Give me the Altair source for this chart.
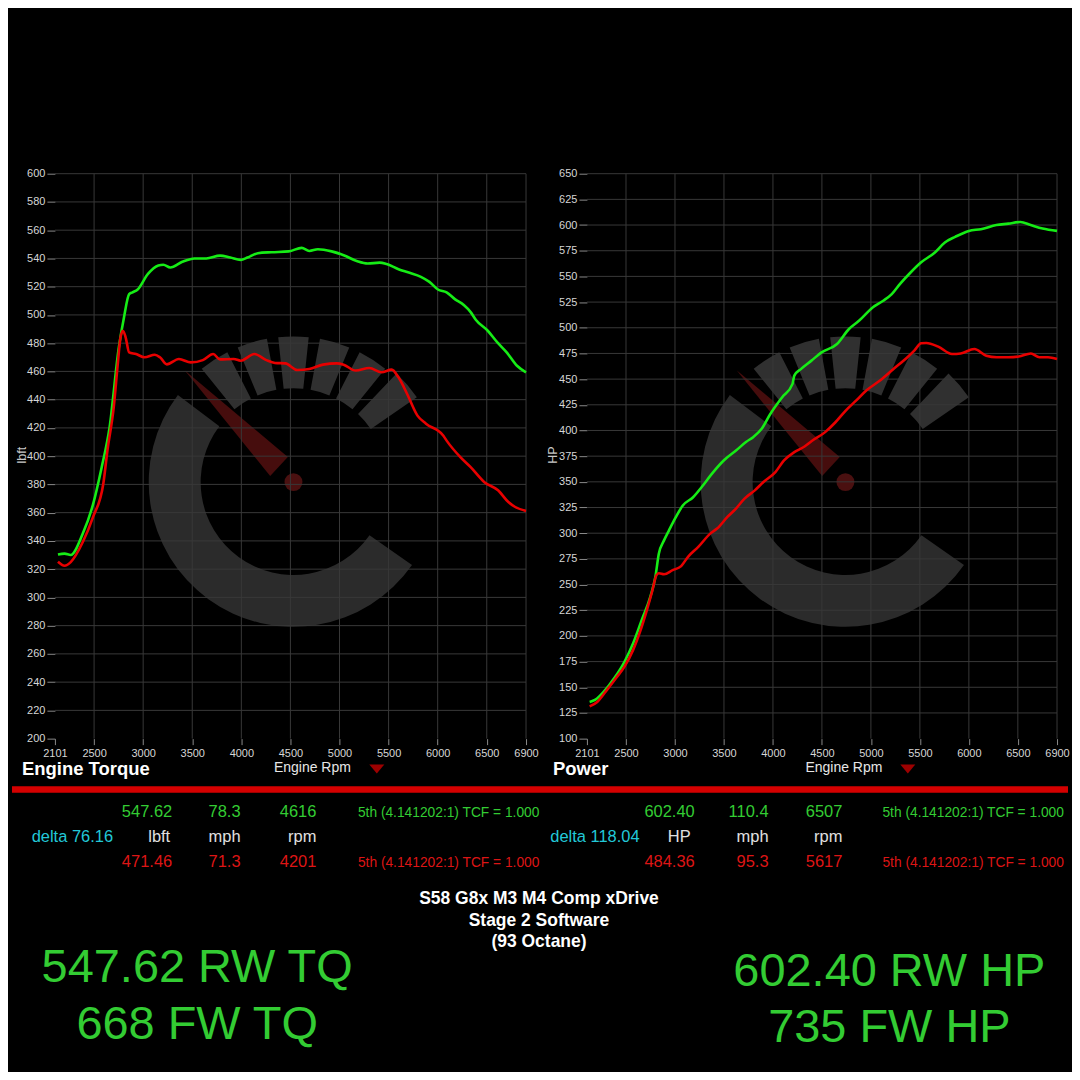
import altair as alt
import pandas as pd

FONT = "Liberation Sans"
NARROW = "Liberation Sans"

# ---------------- data ----------------
rpm_ticks = [2101, 2500, 3000, 3500, 4000, 4500, 5000, 5500, 6000, 6500, 6900]
tq_ticks = list(range(200, 601, 20))
hp_ticks = list(range(100, 651, 25))

tq_green_rpm = [2132, 2199, 2262, 2384, 2490, 2577, 2657, 2752, 2804, 2857, 2892, 2944, 3049, 3154, 3206,
                3276, 3399, 3521, 3643, 3783, 3888, 3993, 4063, 4168, 4308, 4483, 4615, 4692, 4780, 4920,
                5042, 5182, 5287, 5409, 5479, 5601, 5706, 5829, 5916, 6003, 6091, 6178, 6266, 6336, 6388,
                6510, 6615, 6703, 6808, 6900]
tq_green_val = [330.4, 331, 330, 345, 366, 392, 420, 477, 498, 514.7, 516, 518, 529, 535, 535.5,
                533.6, 537.6, 540, 540, 542, 540.6, 539, 540.6, 543.7, 544.4, 545, 547.5, 545.3, 546.5, 545,
                542.3, 538, 536.4, 537, 536, 532.4, 530, 527, 523.4, 518, 516, 511, 507, 502, 496.6,
                488.8, 480, 473.5, 464, 459.4]

tq_red_rpm = [2132, 2199, 2262, 2384, 2490, 2594, 2636, 2700, 2741, 2769, 2794, 2822, 2857, 2927, 3014,
              3119, 3171, 3241, 3364, 3486, 3608, 3713, 3783, 3923, 3993, 4133, 4255, 4343, 4448, 4570,
              4692, 4832, 4972, 5042, 5164, 5304, 5427, 5531, 5601, 5689, 5794, 5881, 6056, 6091, 6231,
              6336, 6476, 6615, 6720, 6790, 6900]
tq_red_val = [325.2, 322.4, 325, 339, 357, 380.5, 404, 434.6, 465, 484, 488.8, 484, 473.5, 472.3, 470,
              471.8, 470, 465, 468.8, 466.4, 468, 472.3, 468.5, 468.8, 467.6, 472.3, 468, 466, 465.7, 461,
              461.7, 464.8, 465.7, 464.8, 460.6, 462.4, 459.4, 461.3, 455.8, 444, 428.7, 423, 414.6, 411, 399.3,
              392.2, 381.6, 375.8, 367.5, 364, 361.2]

hp_green_rpm = [2129, 2188, 2276, 2381, 2486, 2573, 2661, 2748, 2800, 2835, 2888, 2940, 3010, 3080, 3185,
                3273, 3378, 3500, 3623, 3728, 3798, 3885, 3973, 4095, 4200, 4218, 4288, 4393, 4496, 4654,
                4776, 4881, 5021, 5126, 5213, 5300, 5405, 5510, 5650, 5755, 5860, 6000, 6123, 6281, 6403,
                6526, 6631, 6753, 6900]
hp_green_val = [135.7, 138, 146, 159, 175.1, 192.9, 215.6, 238, 257.6, 280, 293, 303, 315.8, 327, 335,
                345, 358, 371, 380.5, 389, 393.5, 401.6, 416, 432.4, 445.4, 453.4, 460, 468, 476, 484.2,
                498.8, 507, 520, 526.3, 532.8, 543, 553.8, 563.5, 573, 583, 588.5, 594.3, 596, 600, 601.4,
                603, 600, 596.6, 594.3]

hp_red_rpm = [2129, 2206, 2294, 2399, 2486, 2573, 2643, 2713, 2766, 2811, 2836, 2888, 2976, 3063, 3133,
              3238, 3360, 3430, 3535, 3623, 3710, 3815, 3903, 4025, 4113, 4218, 4323, 4393, 4533, 4638,
              4743, 4848, 4953, 5093, 5233, 5373, 5443, 5513, 5565, 5688, 5828, 5916, 6056, 6178, 6283,
              6405, 6510, 6633, 6720, 6808, 6900]
hp_red_val = [131.4, 135.7, 146, 159, 170.4, 186.4, 204, 225.2, 243, 259.2, 261, 260, 264, 268, 277,
              286.7, 299.6, 304.5, 315.8, 324, 333.6, 341.7, 349.8, 359.5, 370.8, 378.9, 384.4, 389.5, 398.4, 408,
              419.4, 429, 438.9, 448.6, 460, 471.3, 477.7, 485, 485.2, 481.6, 474.5, 475, 479.3, 472.8, 471.3,
              471.3, 472, 475, 471.3, 471.3, 469.7]

# table texts
tq_row_top = ["547.62", "78.3", "4616"]
tq_row_units = ["lbft", "mph", "rpm"]
tq_row_bot = ["471.46", "71.3", "4201"]
tq_delta = "delta 76.16"
hp_row_top = ["602.40", "110.4", "6507"]
hp_row_units = ["HP", "mph", "rpm"]
hp_row_bot = ["484.36", "95.3", "5617"]
hp_delta = "delta 118.04"
gear_text = "5th (4.141202:1) TCF = 1.000"
title_lines = ["S58 G8x M3 M4 Comp xDrive", "Stage 2 Software", "(93 Octane)"]
big_left = ["547.62 RW TQ", "668 FW TQ"]
big_right = ["602.40 RW HP", "735 FW HP"]

# watermark logo (decorative): ring pieces in degrees / px radii
wm_pieces = pd.DataFrame({
    "t1": [125, 321, 337.5, 354, 10.5, 27, 43.5],
    "t2": [307, 333, 349.5, 366, 22.5, 39, 55.5],
    "r1": [93, 94, 94, 94, 94, 94, 94],
    "r2": [145, 146, 146, 146, 146, 146, 150],
    "shade": ["#2b2b2b", "#303030", "#303030", "#303030", "#303030", "#303030", "#303030"],
})

GREEN_LINE = "#16ec16"
RED_LINE = "#e80000"
GREEN_TXT = "#33cc33"
RED_TXT = "#dd1515"
CYAN_TXT = "#22c8d8"
GRID = "#383838"

ONE = pd.DataFrame({"k": [0]})


def label(text, px, py, origin, color="#ffffff", size=16, font=FONT, weight="normal",
          align="center", baseline="alphabetic", angle=0):
    return alt.Chart(ONE).mark_text(
        text=text, font=font, fontSize=size, fontWeight=weight, align=align,
        baseline=baseline, angle=angle, color=color
    ).encode(x=alt.value(px - origin[0]), y=alt.value(py - origin[1]))


def panel(g_rpm, g_val, r_rpm, r_val, yticks, width, origin, center, title, ytitle, title_x, rpm_x, tri_x):
    xs = alt.Scale(domain=[2101, 6900], nice=False, zero=False)
    ys = alt.Scale(domain=[yticks[0], yticks[-1]], nice=False, zero=False)
    xaxis = alt.Axis(values=rpm_ticks, format="d", title=None, grid=False, domain=False,
                     labelFont=NARROW, labelFontSize=11, labelColor="#d6d6d6",
                     tickColor="#8a8a8a", tickSize=6, labelPadding=3, labelFlush=False,
                     labelOverlap=False)
    yaxis = alt.Axis(values=yticks, format="d", title=None, grid=False, domain=False,
                     labelFont=NARROW, labelFontSize=11, labelColor="#d6d6d6",
                     tickColor="#8a8a8a", tickSize=8, labelPadding=2, labelOverlap=False)
    cx, cy = center[0] - origin[0], center[1] - origin[1]

    wm = alt.Chart(wm_pieces).transform_calculate(
        a1="datum.t1 * PI / 180", a2="datum.t2 * PI / 180"
    ).mark_arc().encode(
        theta=alt.Theta("a1:Q", scale=None, stack=None), theta2="a2:Q",
        radius=alt.Radius("r2:Q", scale=None), radius2="r1:Q",
        color=alt.Color("shade:N", scale=None, legend=None),
        x=alt.value(cx), y=alt.value(cy))
    needle = alt.Chart(ONE).mark_point(
        shape="M -1.557 -1.6 L -0.081 -0.361 L -0.333 -0.086 Z", filled=True, size=19600,
        color="#4e0e0e", opacity=0.9, strokeWidth=0
    ).encode(x=alt.value(cx), y=alt.value(cy))
    dot = alt.Chart(ONE).mark_point(shape="circle", filled=True, size=324, color="#521212",
                                    opacity=0.9, strokeWidth=0).encode(x=alt.value(cx), y=alt.value(cy))

    vgrid = alt.Chart(pd.DataFrame({"rpm": rpm_ticks[1:]})).mark_rule(color=GRID, strokeWidth=1).encode(
        x=alt.X("rpm:Q", scale=xs, axis=xaxis))
    hgrid = alt.Chart(pd.DataFrame({"v": yticks[1:]})).mark_rule(color=GRID, strokeWidth=1).encode(
        y=alt.Y("v:Q", scale=ys, axis=yaxis))

    gdf = pd.DataFrame({"rpm": g_rpm, "v": g_val})
    rdf = pd.DataFrame({"rpm": r_rpm, "v": r_val})
    gline = alt.Chart(gdf).mark_line(color=GREEN_LINE, strokeWidth=2.6, interpolate="monotone").encode(
        x=alt.X("rpm:Q", scale=xs, axis=xaxis), y=alt.Y("v:Q", scale=ys, axis=yaxis))
    rline = alt.Chart(rdf).mark_line(color=RED_LINE, strokeWidth=2.6, interpolate="monotone").encode(
        x=alt.X("rpm:Q", scale=xs, axis=xaxis), y=alt.Y("v:Q", scale=ys, axis=yaxis))

    tri = alt.Chart(ONE).mark_point(shape="M -1 -0.6 L 1 -0.6 L 0 0.6 Z", filled=True, size=225,
                                    color="#e00000", strokeWidth=0).encode(
        x=alt.value(tri_x - origin[0]), y=alt.value(769.5 - origin[1]))

    layers = [wm, needle, dot, vgrid, hgrid, gline, rline, tri,
              label(title, title_x, 775, origin, size=18.5, weight="bold", align="left"),
              label("Engine Rpm", rpm_x, 772, origin, color="#e6e6e6", size=14),
              label(ytitle, title_x, 455, origin, color="#c8c8c8", size=12.5, angle=270,
                    baseline="middle")]
    return layers


L_ORIGIN = (55, 173)
R_ORIGIN = (588, 173)

left_layers = panel(tq_green_rpm, tq_green_val, tq_red_rpm, tq_red_val, tq_ticks, 472, L_ORIGIN,
                    (294, 482), "Engine Torque", "lbft", 22, 313, 377.5)
right_layers = panel(hp_green_rpm, hp_green_val, hp_red_rpm, hp_red_val, hp_ticks, 471, R_ORIGIN,
                     (847, 482), "Power", "HP", 554, 845.5, 909.5)

# anchor spanning the full page area (transparent) so placement is exact
anchor = alt.Chart(ONE).mark_rect(fillOpacity=0, strokeOpacity=0).encode(
    x=alt.value(8 - L_ORIGIN[0]), x2=alt.value(1072 - L_ORIGIN[0]),
    y=alt.value(8 - L_ORIGIN[1]), y2=alt.value(1072 - L_ORIGIN[1]))

red_bar = alt.Chart(ONE).mark_rule(color="#d40000", strokeWidth=6.5).encode(
    x=alt.value(12 - L_ORIGIN[0]), x2=alt.value(1070 - L_ORIGIN[0]), y=alt.value(790 - L_ORIGIN[1]))

extra = [anchor, red_bar]
O = L_ORIGIN
row_y = [817.3, 842.3, 867.3]
lcols = [172.5, 241, 317]
rcols = [696, 770, 844]
for i in range(3):
    extra.append(label(tq_row_top[i], lcols[i], row_y[0], O, color=GREEN_TXT, size=16.5, align="right"))
    extra.append(label(tq_row_units[i], lcols[i] - (2 if i == 0 else 0), row_y[1], O, color="#e0e0e0",
                       size=16.5, align="right"))
    extra.append(label(tq_row_bot[i], lcols[i], row_y[2], O, color=RED_TXT, size=16.5, align="right"))
    extra.append(label(hp_row_top[i], rcols[i], row_y[0], O, color=GREEN_TXT, size=16.5, align="right"))
    extra.append(label(hp_row_units[i], rcols[i] - (4 if i == 0 else 0), row_y[1], O, color="#e0e0e0",
                       size=16.5, align="right"))
    extra.append(label(hp_row_bot[i], rcols[i], row_y[2], O, color=RED_TXT, size=16.5, align="right"))
extra.append(label(tq_delta, 72.5, row_y[1], O, color=CYAN_TXT, size=16.5))
extra.append(label(hp_delta, 596, row_y[1], O, color=CYAN_TXT, size=16.5))
for gx in (449.5, 975):
    extra.append(label(gear_text, gx, row_y[0], O, color=GREEN_TXT, size=13.8))
    extra.append(label(gear_text, gx, row_y[2], O, color=RED_TXT, size=13.8))
for t, yy in zip(title_lines, [905, 926.5, 947.5]):
    extra.append(label(t, 540, yy, O, color="#ffffff", size=17.5, weight="bold"))
for t, yy in zip(big_left, [983, 1040]):
    extra.append(label(t, 197.5, yy, O, color=GREEN_TXT, size=47))
for t, yy in zip(big_right, [987, 1043]):
    extra.append(label(t, 891, yy, O, color=GREEN_TXT, size=47))

left = alt.layer(*(extra + left_layers)).properties(width=472, height=566)
right = alt.layer(*right_layers).properties(width=471, height=566)

chart = alt.hconcat(left, right, spacing=61, bounds="flush").properties(
    padding=0, background="#000000"
).configure_view(strokeWidth=0)

chart.save("out.html", embed_options={"renderer": "svg", "actions": False})
